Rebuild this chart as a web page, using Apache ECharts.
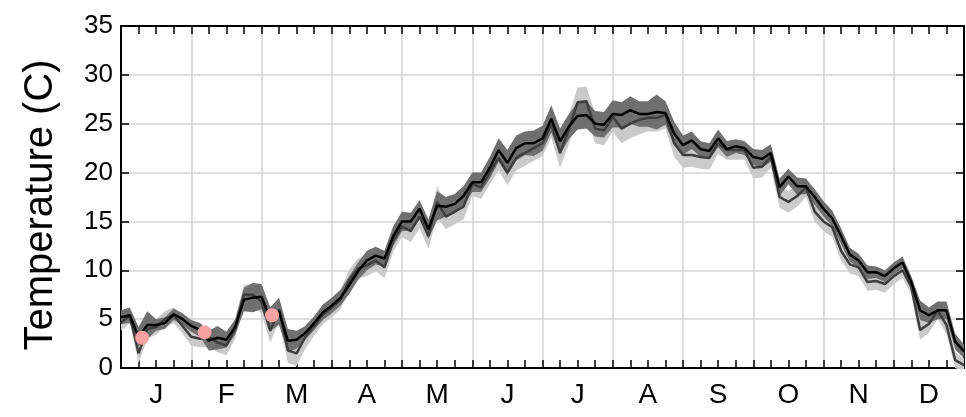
<!DOCTYPE html>
<html>
<head>
<meta charset="utf-8">
<script src="https://cdn.jsdelivr.net/npm/echarts@6/dist/echarts.min.js"></script>
<style>
html, body { margin: 0; padding: 0; background: #fff; }
#chart { width: 966px; height: 417px; }
</style>
</head>
<body>
<div id="chart"></div>
<script>
// month labels along the bottom
var months = ['J', 'F', 'M', 'A', 'M', 'J', 'J', 'A', 'S', 'O', 'N', 'D'];
var perMonth = 8;

// black line (with dark band)
var blackLine = [
    5.2, 5.4, 3.2, 4.4, 4.4, 4.6, 5.5, 5.0,
    4.3, 3.9, 2.8, 3.1, 2.9, 4.2, 7.0, 7.2,
    7.3, 5.0, 5.8, 2.8, 2.9, 3.6, 4.6, 5.7,
    6.4, 7.2, 8.5, 9.9, 11.0, 11.5, 11.2, 13.5,
    15.0, 15.0, 16.3, 14.2, 16.6, 16.5, 16.8, 17.6,
    19.0, 19.0, 20.5, 22.3, 21.0, 22.5, 23.0, 23.0,
    23.5, 25.5, 23.2, 24.7, 25.8, 25.9, 25.0, 24.9,
    26.0, 25.9, 26.4, 26.0, 26.0, 26.2, 26.1, 24.0,
    22.8, 23.3, 22.4, 22.2, 23.5, 22.4, 22.7, 22.5,
    21.6, 21.4, 22.0, 18.5, 19.6, 18.6, 18.6, 17.5,
    16.3, 15.3, 13.5, 11.6, 11.0, 9.8, 9.8, 9.4,
    10.2, 10.8, 8.8, 5.9, 5.4, 5.9, 5.9, 2.7,
    1.7
];
// dark grey line (with light band)
var grayLine = [
    4.6, 5.4, 1.5, 4.0, 4.2, 5.0, 5.4, 4.3,
    3.2, 3.0, 3.2, 2.6, 2.3, 4.0, 7.5, 7.5,
    6.8, 3.8, 6.0, 1.8, 1.5, 3.2, 4.3, 5.5,
    6.2, 7.0, 9.0, 10.2, 10.5, 11.0, 10.3, 13.0,
    14.5, 14.0, 15.5, 13.5, 17.0, 15.5, 16.0, 16.5,
    18.8, 18.5, 20.0, 21.5, 20.0, 21.5, 22.0, 22.5,
    23.0, 25.0, 22.0, 24.4, 27.2, 27.3, 24.5, 24.3,
    25.7, 24.5, 25.0, 25.4, 25.6, 25.6, 25.9, 23.0,
    21.8, 21.8, 21.6, 21.5, 23.0, 22.3, 22.3, 22.3,
    20.5, 20.6, 21.6, 17.5, 17.0, 17.6, 18.5, 16.0,
    15.0, 14.4, 12.0, 10.6, 10.3, 8.8, 8.9, 8.6,
    9.4, 10.0, 8.3, 3.9, 4.5, 5.9, 4.4, 0.8,
    0.3
];
// half widths of the bands
var darkSpread = [
    0.7, 0.8, 1.0, 1.4, 0.6, 0.6, 0.6, 0.6,
    0.6, 0.7, 1.0, 1.2, 0.8, 0.8, 1.2, 1.5,
    1.3, 1.2, 1.4, 1.2, 0.9, 0.7, 0.7, 0.8,
    0.8, 0.8, 0.9, 0.9, 1.0, 0.9, 0.8, 1.0,
    1.0, 0.9, 0.9, 1.0, 1.5, 1.0, 1.0, 1.0,
    1.0, 1.0, 1.1, 1.2, 1.3, 1.3, 1.2, 1.3,
    1.3, 1.4, 1.3, 1.3, 1.4, 1.4, 1.3, 1.3,
    1.4, 1.3, 1.4, 1.3, 1.3, 1.8, 1.2, 1.2,
    1.0, 0.9, 0.8, 0.8, 0.9, 0.8, 0.7, 0.7,
    0.8, 0.9, 0.9, 0.9, 0.8, 0.9, 0.8, 0.8,
    0.8, 0.8, 0.8, 0.7, 0.7, 0.7, 0.6, 0.6,
    0.6, 0.6, 0.6, 1.0, 0.8, 0.9, 0.9, 0.8,
    0.7
];
var lightSpread = [
    0.8, 0.8, 1.0, 1.0, 0.8, 0.8, 0.8, 0.8,
    0.9, 0.9, 1.0, 1.0, 1.0, 1.0, 1.0, 1.1,
    1.2, 1.2, 1.2, 1.3, 1.3, 1.2, 1.0, 1.0,
    1.0, 1.0, 1.1, 1.0, 1.1, 1.1, 1.1, 1.1,
    1.1, 1.1, 1.2, 1.3, 1.6, 1.3, 1.3, 1.3,
    1.2, 1.2, 1.2, 1.3, 1.3, 1.3, 1.3, 1.3,
    1.3, 1.4, 1.5, 1.5, 1.5, 1.5, 1.5, 1.5,
    1.5, 1.5, 1.5, 1.5, 1.4, 1.4, 1.4, 1.4,
    1.3, 1.2, 1.2, 1.2, 1.1, 1.0, 1.0, 1.0,
    1.1, 1.1, 1.1, 1.1, 1.1, 1.1, 1.0, 1.0,
    1.0, 1.0, 1.0, 0.9, 0.9, 0.9, 0.9, 0.9,
    0.8, 0.8, 0.8, 1.0, 0.9, 0.9, 0.9, 0.8,
    0.7
];
// pink markers (month position, temperature)
var dotX = [0.30, 1.19, 2.15];
var dotY = [3.1, 3.65, 5.4];

var chart = echarts.init(document.getElementById('chart'));

// one category per sample, spanning the whole plot (0 .. 12 months)
var sampleIdx = blackLine.map(function (v, i) { return String(i); });

function lower(line, spread) {
    return line.map(function (v, i) { return v - spread[i]; });
}
function width(spread) {
    return spread.map(function (s) { return 2 * s; });
}

var gridColor = '#d3d3d3';
var font = 'Liberation Sans, Arial, sans-serif';
function tickStyle() { return { color: '#000', width: 1.5 }; }
function blank() { return ''; }

function bandSeries(name, line, spread, color) {
    return [
        {
            name: name + '-low', type: 'line', xAxisIndex: 3, stack: name, stackStrategy: 'all',
            data: lower(line, spread), symbol: 'none', silent: true,
            lineStyle: { opacity: 0 }
        },
        {
            name: name, type: 'line', xAxisIndex: 3, stack: name, stackStrategy: 'all',
            data: width(spread), symbol: 'none', silent: true,
            lineStyle: { opacity: 0 },
            areaStyle: { color: color, opacity: 1 }
        }
    ];
}

// value axis along the top / bottom with quarter-month ticks
function monthAxis(pos, grid) {
    return {
        type: 'value', min: 0, max: 12, interval: 1, position: pos,
        axisLine: { show: true, onZero: false, lineStyle: { color: '#000', width: 2 } },
        axisTick: { show: true, inside: true, length: 8, lineStyle: tickStyle() },
        minorTick: { show: true, splitNumber: 4, length: 8, lineStyle: tickStyle() },
        axisLabel: { show: true, formatter: blank },
        splitLine: { show: grid, lineStyle: { color: gridColor, width: 1.5 } }
    };
}

var option = {
    animation: false,
    grid: { left: 121, right: 2, top: 26, bottom: 49, outerBoundsMode: 'none', containLabel: false },
    xAxis: [
        monthAxis('bottom', true),
        monthAxis('top', false),
        {
            type: 'category', data: months, position: 'bottom', boundaryGap: true,
            axisLine: { show: false, onZero: false }, axisTick: { show: false },
            axisLabel: { fontSize: 28, color: '#000', margin: 13, fontFamily: font },
            splitLine: { show: false }
        },
        {
            type: 'category', data: sampleIdx, position: 'bottom', boundaryGap: false,
            axisLine: { show: false, onZero: false }, axisTick: { show: false },
            axisLabel: { show: false }, splitLine: { show: false }
        }
    ],
    yAxis: [
        {
            type: 'value', min: 0, max: 35, interval: 5, position: 'left',
            axisLine: { show: true, onZero: false, lineStyle: { color: '#000', width: 2 } },
            axisTick: { show: true, inside: true, length: 8, lineStyle: tickStyle() },
            axisLabel: { fontSize: 26, color: '#000', margin: 8, fontFamily: font },
            splitLine: { show: true, lineStyle: { color: gridColor, width: 1.5 } },
            name: 'Temperature (C)', nameLocation: 'middle', nameGap: 60,
            nameTextStyle: { fontSize: 40, color: '#000', fontFamily: font, padding: [0, 16, 0, 0] }
        },
        {
            type: 'value', min: 0, max: 35, interval: 5, position: 'right',
            axisLine: { show: true, onZero: false, lineStyle: { color: '#000', width: 2 } },
            axisTick: { show: true, inside: true, length: 8, lineStyle: tickStyle() },
            axisLabel: { show: true, formatter: blank },
            splitLine: { show: false }
        }
    ],
    series: []
        .concat(bandSeries('light', grayLine, lightSpread, '#cacaca'))
        .concat(bandSeries('dark', blackLine, darkSpread, '#6f6f6f'))
        .concat([
            {
                name: 'gray', type: 'line', xAxisIndex: 3, data: grayLine, symbol: 'none',
                lineStyle: { color: '#3d3d3d', width: 2.5 }
            },
            {
                name: 'black', type: 'line', xAxisIndex: 3, data: blackLine, symbol: 'none',
                lineStyle: { color: '#000', width: 2.5 }
            },
            {
                name: 'dots', type: 'scatter', xAxisIndex: 0, symbolSize: 14, z: 10,
                data: dotX.map(function (x, i) { return [x, dotY[i]]; }),
                itemStyle: { color: '#f7a3a3', opacity: 1 }
            }
        ])
};
chart.setOption(option);
</script>
</body>
</html>
